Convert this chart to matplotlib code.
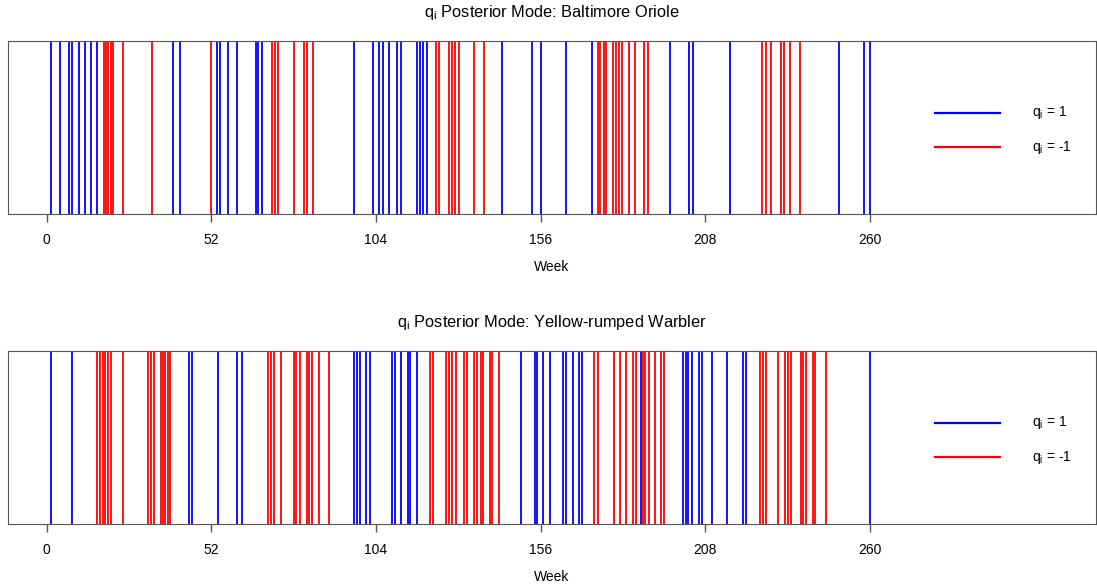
import matplotlib
matplotlib.use("Agg")
import matplotlib.pyplot as plt

plt.rcParams['font.family'] = ['Liberation Sans', 'DejaVu Sans']
plt.rcParams['mathtext.default'] = 'regular'

# weeks where the posterior mode of q_i is 1 / -1
oriole_pos = [1.3, 4.2, 7.0, 8.1, 10.2, 12.1, 14.0, 16.0, 40.0, 42.1, 53.9, 54.7, 57.2, 60.1,
              66.0, 66.8, 67.9, 97.1, 103.0, 104.9, 106.1, 108.1, 110.8, 112.0, 116.9, 117.9,
              119.0, 120.0, 143.9, 153.2, 156.0, 164.0, 172.1, 197.0, 202.9, 204.0, 215.9,
              250.1, 258.0, 259.9]
oriole_neg = [18.0, 18.7, 19.5, 20.3, 21.0, 24.0, 33.2, 52.0, 71.1, 72.1, 73.2, 78.0, 81.3,
              82.1, 84.0, 122.9, 123.8, 127.1, 128.0, 129.1, 130.2, 134.9, 138.1, 174.0, 174.8,
              176.0, 176.8, 178.9, 179.7, 180.7, 181.7, 183.8, 185.9, 188.8, 189.9, 226.0,
              227.1, 228.9, 231.9, 232.9, 234.9, 237.9]

warbler_pos = [1.3, 7.9, 44.9, 46.0, 54.0, 60.1, 61.8, 97.1, 98.0, 99.0, 100.9, 102.0, 109.0,
               110.0, 112.0, 114.0, 114.9, 116.9, 149.9, 154.1, 154.9, 156.9, 158.9, 163.0,
               164.0, 166.1, 168.0, 169.0, 187.6, 201.0, 201.9, 202.7, 203.8, 205.9, 206.9,
               210.1, 214.9, 219.9, 220.9, 260.0]
warbler_neg = [16.0, 16.8, 17.7, 18.5, 19.4, 20.2, 24.0, 31.9, 32.9, 33.9, 36.0, 36.7, 37.5,
               38.2, 39.0, 70.0, 70.8, 71.9, 74.0, 78.0, 78.8, 79.9, 82.1, 82.8, 83.7, 85.9,
               89.1, 121.1, 122.1, 126.0, 127.1, 128.0, 129.3, 131.8, 132.9, 135.0, 136.0,
               137.1, 137.9, 140.0, 140.8, 142.9, 172.9, 174.0, 179.1, 181.0, 183.0, 185.1,
               186.1, 188.2, 189.0, 190.2, 192.1, 194.0, 194.9, 225.2, 226.2, 227.1, 231.0,
               233.2, 234.1, 235.1, 238.1, 238.8, 239.9, 242.0, 242.8, 246.0]

species = ["Baltimore Oriole", "Yellow-rumped Warbler"]
week_ticks = [0, 52, 104, 156, 208, 260]

fig = plt.figure(figsize=(10.97, 5.87), dpi=100)
panels = [(0.6354, oriole_pos, oriole_neg), (0.1073, warbler_pos, warbler_neg)]

for (bottom, pos, neg), name in zip(panels, species):
    ax = fig.add_axes([8 / 1097, bottom, 1088 / 1097, 173 / 587])
    ax.vlines(pos, 0, 1, colors="#0000FF", linewidth=1.3)
    ax.vlines(neg, 0, 1, colors="#FF0000", linewidth=1.3)
    ax.set_xlim(-12.2, 331.4)
    ax.set_ylim(0, 1)
    ax.set_yticks([])
    ax.set_xticks(week_ticks)
    ax.tick_params(axis="x", length=6, width=1, color="#555555", pad=8, labelsize=10)
    for s in ax.spines.values():
        s.set_color("#555555")
    ax.set_title("q$_i$ Posterior Mode: " + name, fontsize=11.8, pad=17)
    ax.set_xlabel("Week", fontsize=10, labelpad=9)

    # legend drawn by hand, no box
    ax.plot([280.5, 301.0], [0.584, 0.584], color="#0000FF", linewidth=1.6)
    ax.plot([280.5, 301.0], [0.387, 0.387], color="#FF0000", linewidth=1.6)
    ax.text(311.2, 0.584, "q$_i$ = 1", va="center", fontsize=10)
    ax.text(311.2, 0.387, "q$_i$ = -1", va="center", fontsize=10)

fig.savefig("out.png", dpi=100)
